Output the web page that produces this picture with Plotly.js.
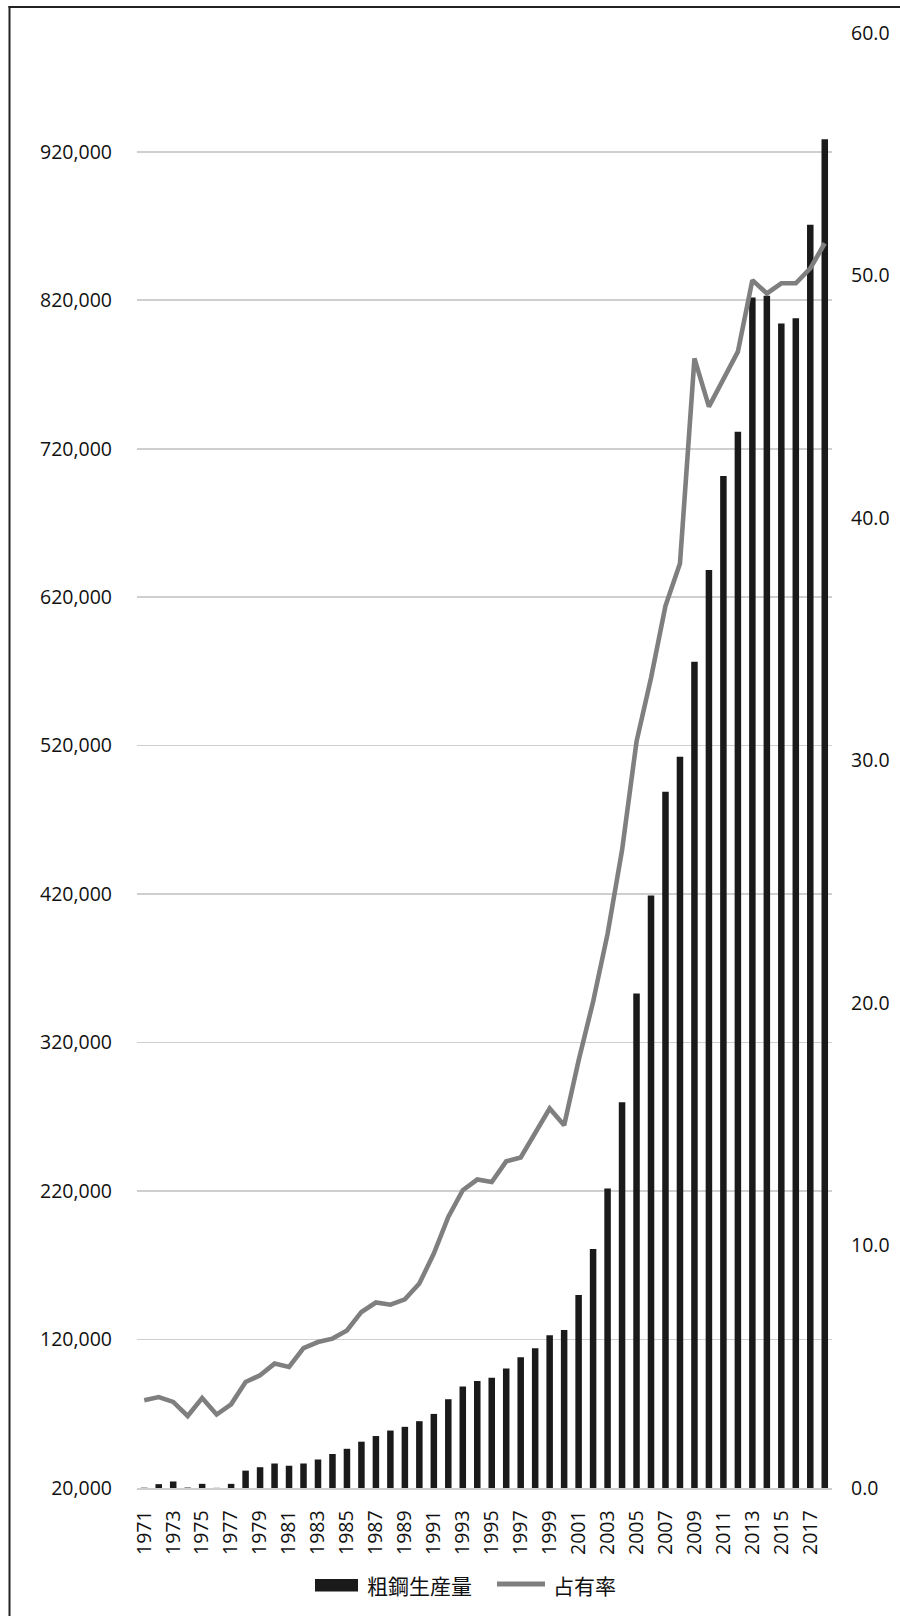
<!DOCTYPE html>
<html>
<head>
<meta charset="utf-8">
<script src="https://cdn.plot.ly/plotly-3.0.1.min.js"></script>
<style>
  html, body { margin: 0; padding: 0; background: #ffffff; }
  #chart { width: 900px; height: 1616px; }
</style>
</head>
<body>
<div id="chart"></div>
<script>
// ---- data ----
const years = ["1971","1972","1973","1974","1975","1976","1977","1978","1979","1980",
  "1981","1982","1983","1984","1985","1986","1987","1988","1989","1990",
  "1991","1992","1993","1994","1995","1996","1997","1998","1999","2000",
  "2001","2002","2003","2004","2005","2006","2007","2008","2009","2010",
  "2011","2012","2013","2014","2015","2016","2017","2018"];

// 粗鋼生産量 (left axis)
const steelOutput = [20200, 22600, 24400, 20300, 22800, 20100, 22800, 31700, 34000, 36500,
  35000, 36500, 39200, 42900, 46400, 51200, 55000, 58700, 61200, 65000,
  69900, 79800, 88300, 92000, 94300, 100500, 108000, 114200, 122900, 126500,
  150000, 181000, 221800, 279800, 353000, 419000, 489000, 512500, 576500, 638300,
  701700, 731400, 821800, 823000, 804400, 807800, 870800, 928500];

// 占有率 (right axis, %)
const shareRate = [3.62, 3.75, 3.55, 2.97, 3.71, 3.03, 3.45, 4.37, 4.65, 5.13,
  4.99, 5.77, 6.02, 6.16, 6.50, 7.26, 7.65, 7.56, 7.78, 8.43,
  9.67, 11.18, 12.28, 12.72, 12.62, 13.47, 13.63, 14.62, 15.65, 14.96,
  17.63, 20.05, 22.85, 26.30, 30.78, 33.40, 36.38, 38.12, 46.58, 44.59,
  45.69, 46.86, 49.81, 49.26, 49.68, 49.68, 50.29, 51.33];

const xTickLabels = ["1971","1973","1975","1977","1979","1981","1983","1985","1987","1989",
  "1991","1993","1995","1997","1999","2001","2003","2005","2007","2009",
  "2011","2013","2015","2017"];

const leftTicks = [20000, 120000, 220000, 320000, 420000, 520000, 620000, 720000, 820000, 920000];
const rightTicks = [0, 10, 20, 30, 40, 50, 60];

const seriesNames = ["粗鋼生産量", "占有率"];

// ---- layout helpers (pixel -> paper) ----
const W = 900, H = 1616;
const M = { l: 137, r: 68, t: 33, b: 128 };
const PW = W - M.l - M.r, PH = H - M.t - M.b;
const px = v => (v - M.l) / PW;
const py = v => (H - M.b - v) / PH;

const barColor = "#1a1a1a";
const lineColor = "#7f7f7f";
const gridColor = "#cfcfcf";
const textColor = "#111111";
const tickFont = { family: "Open Sans, Noto Sans, sans-serif", size: 19.5, color: textColor };
const cjkFont = { family: "Noto Sans CJK JP, Noto Sans CJK SC, sans-serif", size: 21, color: textColor };

const traces = [
  {
    type: "bar",
    name: seriesNames[0],
    x: years,
    y: steelOutput,
    marker: { color: barColor, line: { width: 0 } },
    yaxis: "y",
    hoverinfo: "x+y"
  },
  {
    type: "scatter",
    mode: "lines",
    name: seriesNames[1],
    x: years,
    y: shareRate,
    line: { color: lineColor, width: 4.6 },
    yaxis: "y2",
    hoverinfo: "x+y"
  }
];

const layout = {
  width: W,
  height: H,
  margin: M,
  paper_bgcolor: "#ffffff",
  plot_bgcolor: "#ffffff",
  showlegend: false,
  bargap: 0.55,
  font: tickFont,
  xaxis: {
    type: "category",
    tickvals: xTickLabels,
    ticktext: xTickLabels,
    tickangle: -90,
    tickfont: tickFont,
    showgrid: false,
    zeroline: false,
    showline: true,
    linecolor: gridColor,
    linewidth: 1.6,
    ticks: "",
    ticklabelstandoff: 13
  },
  yaxis: {
    range: [20000, 1000000],
    tickvals: leftTicks,
    tickformat: ",d",
    tickfont: tickFont,
    showgrid: true,
    gridcolor: gridColor,
    gridwidth: 1.6,
    zeroline: false,
    showline: false,
    ticks: "",
    ticklabelstandoff: 24
  },
  yaxis2: {
    overlaying: "y",
    side: "right",
    range: [0, 60],
    tickvals: rightTicks,
    tickformat: ".1f",
    tickfont: tickFont,
    showgrid: false,
    zeroline: false,
    showline: false,
    ticks: "",
    ticklabelstandoff: 18
  },
  shapes: [
    // outer frame (left and top edges)
    { type: "line", xref: "paper", yref: "paper", x0: px(9.5), x1: px(9.5), y0: py(6), y1: py(1625),
      line: { color: "#222222", width: 2 } },
    { type: "line", xref: "paper", yref: "paper", x0: px(8.5), x1: px(910), y0: py(7), y1: py(7),
      line: { color: "#222222", width: 2 } },
    // legend swatches
    { type: "rect", xref: "paper", yref: "paper", x0: px(315), x1: px(358), y0: py(1579), y1: py(1591.5),
      fillcolor: barColor, line: { width: 0 } },
    { type: "line", xref: "paper", yref: "paper", x0: px(497), x1: px(545), y0: py(1584), y1: py(1584),
      line: { color: lineColor, width: 5 } }
  ],
  annotations: [
    { xref: "paper", yref: "paper", x: px(365), y: py(1585), xanchor: "left", yanchor: "middle",
      text: seriesNames[0], showarrow: false, font: cjkFont },
    { xref: "paper", yref: "paper", x: px(551), y: py(1585), xanchor: "left", yanchor: "middle",
      text: seriesNames[1], showarrow: false, font: cjkFont }
  ]
};

Plotly.newPlot("chart", traces, layout, { displayModeBar: false, staticPlot: true });
</script>
</body>
</html>
